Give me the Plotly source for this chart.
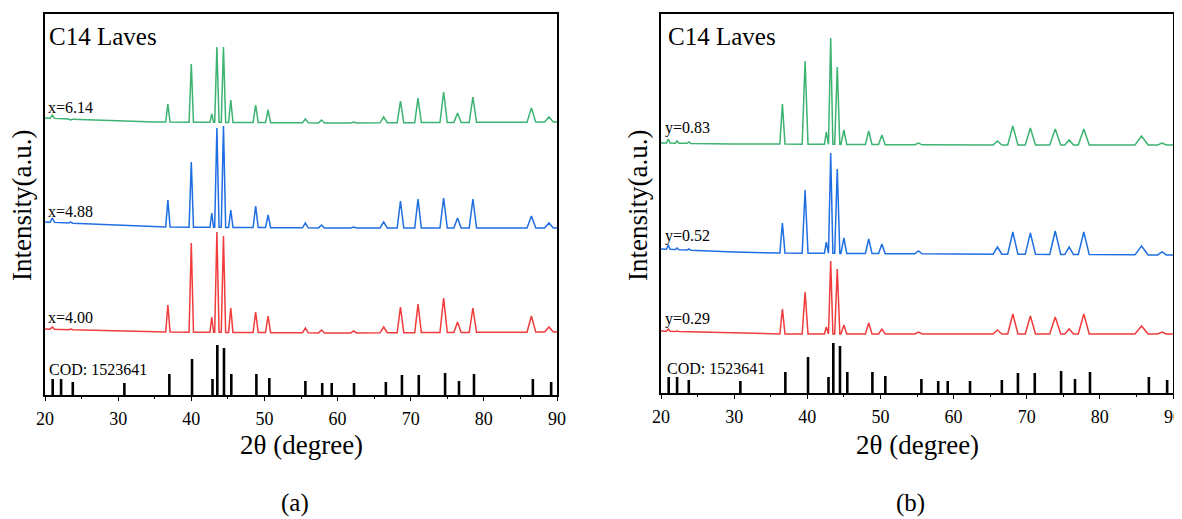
import numpy as np
import plotly.graph_objects as go

# page body has an 8px margin: the figure is drawn 8px in from the top-left
OFF = 8
W, H = 1182 - OFF, 519 - OFF

# ---------------- data ----------------
anchor_x = [20, 30, 35, 60, 90]

# panel (a)
pos_a = [21.0, 23.5, 36.8, 40.0, 42.8, 43.5, 44.4, 45.4, 48.8, 50.5, 55.6, 57.8, 62.2,
         66.3, 68.6, 71.0, 74.5, 76.4, 78.5, 86.5, 88.9]
hw_a = [0.3, 0.3, 0.3, 0.3, 0.25, 0.3, 0.3, 0.3, 0.35, 0.35, 0.4, 0.4, 0.4,
        0.5, 0.45, 0.45, 0.5, 0.5, 0.5, 0.6, 0.6]
green_a_top = [280, 275, 291, 331, 281, 348, 348, 295, 290, 285, 276, 275, 273,
               278, 294, 297, 303, 282, 298, 287, 278]
blue_a_top = [177, 173, 195, 233, 182, 267, 269, 185, 189, 180, 172, 170, 168,
              173, 194, 196, 197, 177, 196, 179, 172]
red_a_top = [68, 66, 90, 152, 78, 163, 159, 87, 83, 79, 67, 65, 64,
             68, 88, 91, 97, 73, 87, 79, 68]
green_a_base = [277, 274, 273, 272, 273]
blue_a_base = [173, 170, 168, 167, 167]
red_a_base = [66, 64, 63, 62, 63]

# panel (b)
pos_b = [21.0, 22.2, 23.8, 36.6, 39.7, 42.6, 43.2, 44.1, 45.0, 48.4, 50.2, 55.2,
         66.0, 68.1, 70.5, 73.9, 75.8, 77.8, 85.7, 88.5]
hw_b = [0.25, 0.25, 0.25, 0.35, 0.4, 0.25, 0.3, 0.35, 0.4, 0.45, 0.45, 0.5,
        0.6, 0.7, 0.7, 0.75, 0.6, 0.75, 0.9, 0.6]
green_b_top = [254, 252, 251, 289, 332, 261, 355, 326, 263, 262, 258, 250,
               252, 267, 265, 264, 253, 264, 257, 250]
blue_b_top = [148, 145, 144, 170, 203, 151, 240, 224, 155, 154, 149, 142,
              146, 161, 160, 162, 146, 161, 147, 141]
red_b_top = [64, 62, 61, 84, 101, 66, 132, 124, 68, 70, 64, 61,
             63, 79, 77, 76, 64, 79, 67, 61]
green_b_base = [250, 249, 249, 248, 248]
blue_b_base = [144, 141, 140, 139, 138]
red_b_base = [62, 60, 59, 59, 59]

# reference pattern COD 1523641
cod_pos = [21.05, 22.2, 23.8, 30.85, 37.0, 40.1, 42.9, 43.56, 44.47, 45.47, 48.9, 50.67,
           55.6, 57.9, 59.2, 62.25, 66.6, 68.8, 71.1, 74.7, 76.6, 78.65, 86.7, 89.2]
cod_int = [16, 16, 13, 12, 21, 36, 16, 50, 47, 21, 21, 17,
           14, 12, 12, 12, 13, 20, 20, 22, 14, 21, 16, 13]

labels_a = ["x=6.14", "x=4.88", "x=4.00"]
labels_b = ["y=0.83", "y=0.52", "y=0.29"]

GREEN = "#3cb371"
BLUE = "#1f6fe3"
RED = "#f03c3c"


def profile(pos, tops, hws, base):
    xs = list(anchor_x)
    ys = list(base)
    for p, t, w in zip(pos, tops, hws):
        b0, b1 = np.interp([p - w, p + w], anchor_x, base)
        xs += [p - w, p, p + w]
        ys += [b0, t, b1]
    order = np.argsort(xs, kind="stable")
    return [xs[i] for i in order], [ys[i] for i in order]


def sticks(pos, ints):
    xs, ys = [], []
    for p, h in zip(pos, ints):
        xs += [p, p, None]
        ys += [0, h, None]
    return xs, ys


def fx(px):
    return (px - OFF) / W


def fy(py):
    return 1 - (py - OFF) / H


fig = go.Figure()

for ax, pos, hws, series in [
    ("", pos_a, hw_a, [(green_a_top, green_a_base, GREEN), (blue_a_top, blue_a_base, BLUE),
                       (red_a_top, red_a_base, RED)]),
    ("2", pos_b, hw_b, [(green_b_top, green_b_base, GREEN), (blue_b_top, blue_b_base, BLUE),
                        (red_b_top, red_b_base, RED)]),
]:
    for tops, base, col in series:
        x, y = profile(pos, tops, hws, base)
        fig.add_trace(go.Scatter(x=x, y=y, mode="lines", line=dict(color=col, width=1.5),
                                 xaxis="x" + ax, yaxis="y" + ax, showlegend=False, hoverinfo="skip"))
    sx, sy = sticks(cod_pos, cod_int)
    fig.add_trace(go.Scatter(x=sx, y=sy, mode="lines", line=dict(color="black", width=2.6),
                             xaxis="x" + ax, yaxis="y" + ax, showlegend=False, hoverinfo="skip"))

FONT = "Liberation Serif"


def xax(domain, anchor):
    return dict(domain=domain, range=[20, 90], dtick=10, tick0=20, anchor=anchor,
                showline=True, mirror=True, linecolor="black", linewidth=1.5,
                ticks="outside", ticklen=4, tickwidth=1.3, tickcolor="black",
                ticklabelstandoff=3,
                minor=dict(dtick=5, tick0=20, ticks="outside", ticklen=2.5, tickwidth=1.2,
                           tickcolor="black"),
                showgrid=False, zeroline=False, automargin=False,
                tickfont=dict(family=FONT, size=18, color="black"))


def yax(domain, top, anchor):
    return dict(domain=domain, range=[0, top], showline=True, mirror=True, linecolor="black",
                linewidth=1.5, showticklabels=False, ticks="", showgrid=False, zeroline=False,
                anchor=anchor, automargin=False)


fig.update_layout(
    width=W, height=H, margin=dict(l=0, r=0, t=0, b=0, autoexpand=False),
    paper_bgcolor="white", plot_bgcolor="white",
    xaxis=xax([fx(45), fx(557)], "y"),
    yaxis=yax([fy(395), fy(14)], 381, "x"),
    xaxis2=xax([fx(661), fx(1173)], "y2"),
    yaxis2=yax([fy(393), fy(14)], 379, "x2"),
)


def ann(text, px, py, size, xanchor="left", angle=0):
    fig.add_annotation(text=text, x=fx(px), y=fy(py), xref="paper", yref="paper",
                       showarrow=False, xanchor=xanchor, yanchor="middle", textangle=angle,
                       font=dict(family=FONT, size=size, color="black"))


# panel (a) texts
ann("C14 Laves", 47, 36, 25)
for t, py in zip(labels_a, [107, 211, 317]):
    ann(t, 46, py, 16)
ann("COD: 1523641", 47, 369, 16)
ann("Intensity(a.u.)", 22, 206, 27, "center", -90)
ann("2θ (degree)", 301, 445, 27, "center")
ann("(a)", 295, 503, 25, "center")

# panel (b) texts
ann("C14 Laves", 666, 36, 25)
for t, py in zip(labels_b, [128, 236, 319]):
    ann(t, 663, py, 16)
ann("COD: 1523641", 665, 368, 16)
ann("Intensity(a.u.)", 638, 206, 27, "center", -90)
ann("2θ (degree)", 917, 445, 27, "center")
ann("(b)", 910, 503, 25, "center")

fig.write_html("out.html")
